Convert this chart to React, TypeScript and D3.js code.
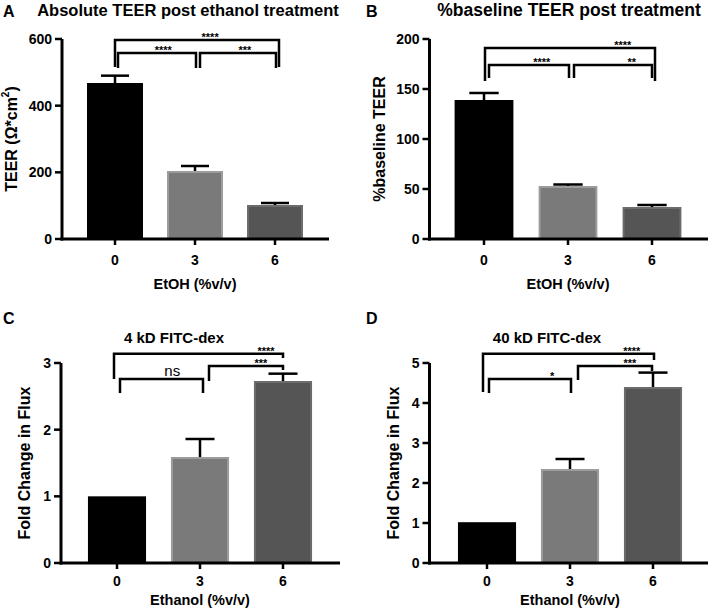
import React from "react";
import * as d3 from "d3";

// EtOH concentration (%v/v) on every x axis
const categories = ["0", "3", "6"];

// A: absolute TEER (ohm*cm2)
const teerAbs = [468, 204, 102];
const teerAbsErr = [22, 15, 6];
const teerAbsTicks = [0, 200, 400, 600];

// B: % of baseline TEER
const teerPct = [139, 53, 32];
const teerPctErr = [7, 1.5, 2];
const teerPctTicks = [0, 50, 100, 150, 200];

// C: 4 kD FITC-dextran flux
const flux4 = [1.0, 1.59, 2.73];
const flux4Err = [0, 0.27, 0.11];
const flux4Ticks = [0, 1, 2, 3];

// D: 40 kD FITC-dextran flux
const flux40 = [1.02, 2.35, 4.4];
const flux40Err = [0, 0.25, 0.36];
const flux40Ticks = [0, 1, 2, 3, 4, 5];

// significance brackets: [from, to, label]
const sigA = [[0, 2, "****"], [0, 1, "****"], [1, 2, "***"]];
const sigB = [[0, 2, "****"], [0, 1, "****"], [1, 2, "**"]];
const sigC = [[0, 2, "****"], [1, 2, "***"], [0, 1, "ns"]];
const sigD = [[0, 2, "****"], [1, 2, "***"], [0, 1, "*"]];

const barFill = ["#000000", "#7a7a7a", "#555555"];
const barStroke = ["#000000", "#9c9c9c", "#6c6c6c"];
const FONT = "Arial, 'Liberation Sans', Helvetica, sans-serif";

type Bracket = { y: number; l: number; r: number; dx1: number; dx2: number; at: number };

type PanelProps = {
  letter: string;
  title: string;
  titleSize: number;
  yLabel: React.ReactNode;
  xLabel: string;
  values: number[];
  errors: number[];
  ticks: number[];
  sig: (string | number)[][];
  brackets: Bracket[];
  axisX: number;
  axisEnd: number;
  top: number;
  bottom: number;
  band: [number, number];
  letterPos: [number, number];
  titlePos: [number, number];
  yLabelX: number;
  xTickDy: number;
  xLabelDy: number;
};

const Panel = (p: PanelProps) => {
  const x = d3.scaleBand().domain(categories).range(p.band).paddingInner(0.3).paddingOuter(0.15);
  const y = d3.scaleLinear().domain([0, p.ticks[p.ticks.length - 1]]).range([p.bottom, p.top]);
  const bw = x.bandwidth();
  const cx = (i: number) => (x(categories[i]) as number) + bw / 2;

  return (
    <g fontFamily={FONT}>
      <text x={p.letterPos[0]} y={p.letterPos[1]} fontSize={16} fontWeight="bold">{p.letter}</text>
      <text x={p.titlePos[0]} y={p.titlePos[1]} fontSize={p.titleSize} fontWeight="bold" textAnchor="middle">{p.title}</text>

      {/* bars */}
      {p.values.map((v, i) => (
        <rect key={"b" + i} x={(x(categories[i]) as number) + 1} y={y(v) + 1} width={bw - 2} height={p.bottom - y(v) - 1}
          fill={barFill[i]} stroke={barStroke[i]} strokeWidth={2} />
      ))}
      {/* error bars (upper) */}
      {p.values.map((v, i) => p.errors[i] > 0 ? (
        <g key={"e" + i} stroke="#000" strokeWidth={2.5}>
          <line x1={cx(i)} x2={cx(i)} y1={y(v)} y2={y(v + p.errors[i])} />
          <line x1={cx(i) - bw / 4} x2={cx(i) + bw / 4} y1={y(v + p.errors[i])} y2={y(v + p.errors[i])} />
        </g>
      ) : null)}

      {/* y axis */}
      <line x1={p.axisX} x2={p.axisX} y1={p.top} y2={p.bottom + 1.5} stroke="#000" strokeWidth={3} />
      {p.ticks.map((t) => (
        <g key={"yt" + t}>
          <line x1={p.axisX - 7} x2={p.axisX} y1={y(t)} y2={y(t)} stroke="#000" strokeWidth={2.5} />
          <text x={p.axisX - 10} y={y(t)} dy="0.36em" textAnchor="end" fontSize={14} fontWeight="bold">{t}</text>
        </g>
      ))}
      {/* x axis */}
      <line x1={p.axisX - 1.5} x2={p.axisEnd} y1={p.bottom} y2={p.bottom} stroke="#000" strokeWidth={3} />
      {categories.map((c, i) => (
        <g key={"xt" + c}>
          <line x1={cx(i)} x2={cx(i)} y1={p.bottom} y2={p.bottom + 6} stroke="#000" strokeWidth={2.5} />
          <text x={cx(i)} y={p.bottom + p.xTickDy} textAnchor="middle" fontSize={14} fontWeight="bold">{c}</text>
        </g>
      ))}
      <text x={cx(1)} y={p.bottom + p.xLabelDy} textAnchor="middle" fontSize={14.5} fontWeight="bold">{p.xLabel}</text>
      <text transform={`translate(${p.yLabelX},${(p.top + p.bottom) / 2}) rotate(-90)`} textAnchor="middle"
        dominantBaseline="central" fontSize={16} fontWeight="bold">{p.yLabel}</text>

      {/* significance brackets */}
      {p.sig.map((s, k) => {
        const b = p.brackets[k];
        const x1 = cx(s[0] as number) + b.dx1;
        const x2 = cx(s[1] as number) + b.dx2;
        const yy = y(b.y);
        const label = s[2] as string;
        const stars = label !== "ns";
        return (
          <g key={"s" + k}>
            <path d={`M${x1},${y(b.l)}V${yy}H${x2}V${y(b.r)}`} fill="none" stroke="#000" strokeWidth={2.5} />
            <text x={x1 + (x2 - x1) * b.at} y={stars ? yy + 1 : yy - 3} textAnchor="middle"
              fontSize={stars ? 11 : 15} fontWeight={stars ? "bold" : "normal"}>{label}</text>
          </g>
        );
      })}
    </g>
  );
};

export default function App() {
  return (
    <svg width={709} height={616} style={{ position: "absolute", left: 0, top: 0, background: "#fff" }}>
      <Panel letter="A" title="Absolute TEER post ethanol treatment" titleSize={16.5}
        yLabel={<>TEER (Ω*cm<tspan dy="-6" fontSize={10}>2</tspan><tspan dy="6">)</tspan></>}
        xLabel="EtOH (%v/v)" values={teerAbs} errors={teerAbsErr} ticks={teerAbsTicks} sig={sigA}
        brackets={[
          { y: 597, l: 516, r: 516, dx1: 0, dx2: 4, at: 0.58 },
          { y: 558, l: 513, r: 513, dx1: 3, dx2: 1, at: 0.58 },
          { y: 558, l: 513, r: 513, dx1: 5, dx2: 1, at: 0.59 },
        ]}
        axisX={62} axisEnd={329} top={39} bottom={239} band={[75, 315]}
        letterPos={[3, 17]} titlePos={[188, 16]} yLabelX={11} xTickDy={26} xLabelDy={50} />
      <Panel letter="B" title="%baseline TEER post treatment" titleSize={17.5}
        yLabel="%baseline TEER"
        xLabel="EtOH (%v/v)" values={teerPct} errors={teerPctErr} ticks={teerPctTicks} sig={sigB}
        brackets={[
          { y: 191, l: 158, r: 158, dx1: 1, dx2: 3, at: 0.81 },
          { y: 174, l: 161, r: 161, dx1: 5, dx2: 1, at: 0.66 },
          { y: 174, l: 161, r: 161, dx1: 6, dx2: 0, at: 0.74 },
        ]}
        axisX={429.5} axisEnd={708} top={39} bottom={239} band={[442, 694]}
        letterPos={[366, 17]} titlePos={[569, 16]} yLabelX={379} xTickDy={26} xLabelDy={50} />
      <Panel letter="C" title="4 kD FITC-dex" titleSize={15}
        yLabel="Fold Change in Flux"
        xLabel="Ethanol (%v/v)" values={flux4} errors={flux4Err} ticks={flux4Ticks} sig={sigC}
        brackets={[
          { y: 3.14, l: 2.76, r: 3.075, dx1: -3, dx2: 0, at: 0.9 },
          { y: 2.955, l: 2.73, r: 2.895, dx1: 9, dx2: 0, at: 0.7 },
          { y: 2.76, l: 2.55, r: 2.55, dx1: 3, dx2: 3, at: 0.63 },
        ]}
        axisX={61} axisEnd={340} top={363} bottom={563} band={[75.5, 324.5]}
        letterPos={[3, 324]} titlePos={[174, 343]} yLabelX={24} xTickDy={23} xLabelDy={42} />
      <Panel letter="D" title="40 kD FITC-dex" titleSize={15}
        yLabel="Fold Change in Flux"
        xLabel="Ethanol (%v/v)" values={flux40} errors={flux40Err} ticks={flux40Ticks} sig={sigD}
        brackets={[
          { y: 5.23, l: 4.275, r: 5.075, dx1: -4, dx2: 1, at: 0.87 },
          { y: 4.925, l: 4.575, r: 4.8, dx1: 8, dx2: -1, at: 0.7 },
          { y: 4.6, l: 4.25, r: 4.25, dx1: 2, dx2: 1, at: 0.77 },
        ]}
        axisX={429.5} axisEnd={708} top={363} bottom={563} band={[445.5, 694.5]}
        letterPos={[366, 324]} titlePos={[547, 343]} yLabelX={393} xTickDy={23} xLabelDy={42} />
    </svg>
  );
}
